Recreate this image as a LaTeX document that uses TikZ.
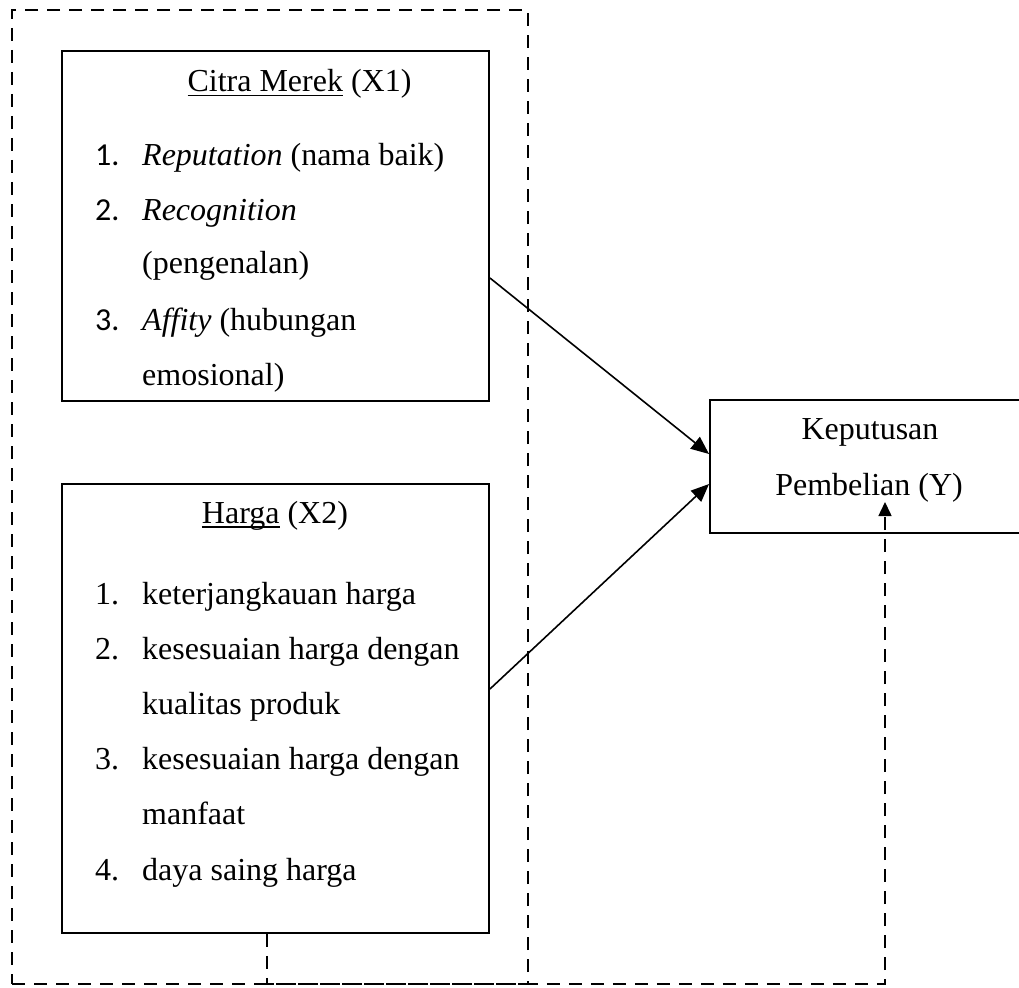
\documentclass[tikz,border=0pt]{standalone}
\usepackage{fontspec}
\setmainfont{Liberation Serif}
\newfontfamily\numfont{Carlito}
\usetikzlibrary{arrows.meta}
\newcommand\myul[1]{\setbox0\hbox{#1}\rlap{\rule[-4.5pt]{\wd0}{1.3pt}}\box0\relax}
\begin{document}
\begin{tikzpicture}[x=1pt,y=-1pt,
  every node/.style={font=\fontsize{32}{38}\selectfont, inner sep=0pt},
  box/.style={draw, line width=1.9pt, inner sep=0pt},
  txt/.style={anchor=base west},
  ctr/.style={anchor=base},
  grp/.style={draw, line width=1.5pt, dash pattern=on 13pt off 9pt, inner sep=0pt},
  arr/.style={line width=1.6pt, -{Triangle[length=18pt,width=15pt]}},
  darr/.style={line width=1.5pt, dash pattern=on 13pt off 9pt, -{Triangle[length=14pt,width=13pt]}}]
\useasboundingbox (0,0) rectangle (1019,987);
\clip (0,0) rectangle (1019,987);
% boxes
\node[grp, minimum width=516pt, minimum height=974pt] (group) at (270,497) {};
\node[box, minimum width=427pt, minimum height=350pt] (x1) at (275.5,226) {};
\node[box, minimum width=427pt, minimum height=449pt] (x2) at (275.5,708.5) {};
\node[box, minimum width=318pt, minimum height=133pt] (y) at (869,466.5) {};
% box 1 text
\node[ctr] (t1) at (299.5,92) {\myul{Citra Merek} (X1)};
\node[txt] (n11) at (95,166) {\numfont 1.};
\node[txt] (i11) at (142,166) {\textit{Reputation} (nama baik)};
\node[txt] (n12) at (95,220) {\numfont 2.};
\node[txt] (i12) at (142,220) {\textit{Recognition}};
\node[txt] (i12b) at (142,273) {(pengenalan)};
\node[txt] (n13) at (95,330) {\numfont 3.};
\node[txt] (i13) at (142,330) {\textit{Affity} (hubungan};
\node[txt] (i13b) at (142,385) {emosional)};
% box 2 text
\node[ctr] (t2) at (275,523) {\myul{Harga} (X2)};
\node[txt] (n21) at (95,604) {1.};
\node[txt] (i21) at (142,604) {keterjangkauan harga};
\node[txt] (n22) at (95,659) {2.};
\node[txt] (i22) at (142,659) {kesesuaian harga dengan};
\node[txt] (i22b) at (142,714) {kualitas produk};
\node[txt] (n23) at (95,769) {3.};
\node[txt] (i23) at (142,769) {kesesuaian harga dengan};
\node[txt] (i23b) at (142,824) {manfaat};
\node[txt] (n24) at (95,880) {4.};
\node[txt] (i24) at (142,880) {daya saing harga};
% Y text
\node[ctr] (y1) at (870,439) {Keputusan};
\node[ctr] (y2) at (869,495) {Pembelian (Y)};
% arrows
\draw[arr] ([yshift=-52pt]x1.east) -- ([yshift=12.5pt]y.west);
\draw[arr] ([yshift=19.5pt]x2.east) -- ([yshift=-17.5pt]y.west);
% dashed connector
\coordinate (c1) at (267,984);
\coordinate (c2) at (885,984);
\coordinate (tip) at (885,502);
\draw[darr] (x2.south -| c1) -- (c1) -- (c2) -- (tip);
\end{tikzpicture}
\end{document}
